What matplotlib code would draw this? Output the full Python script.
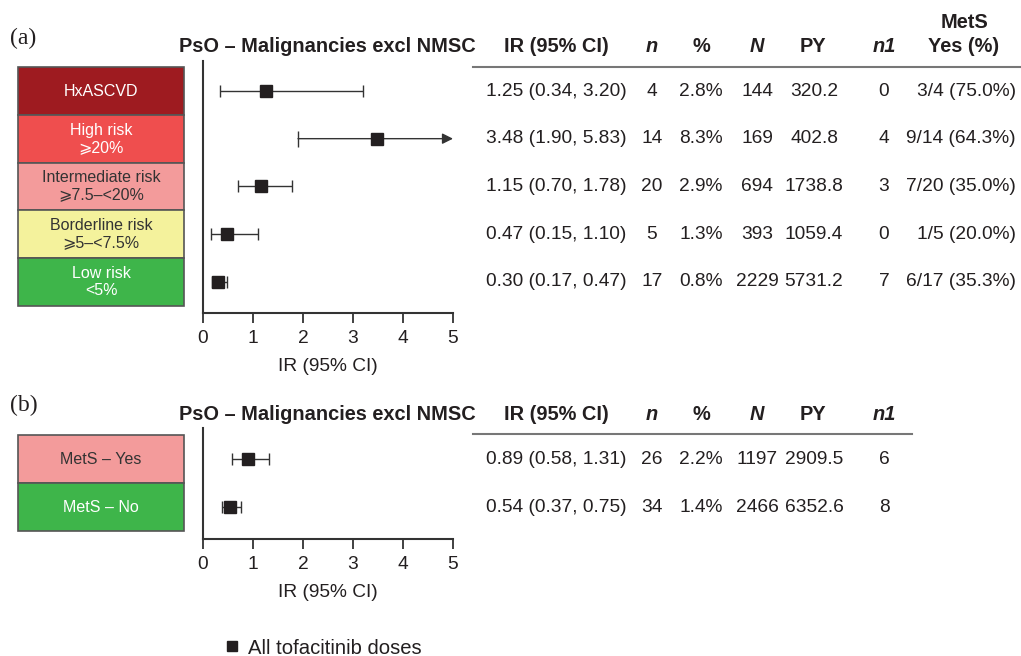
import matplotlib
matplotlib.use("Agg")
import matplotlib.pyplot as plt
from matplotlib.patches import Rectangle
from matplotlib.lines import Line2D
from matplotlib.transforms import blended_transform_factory
import numpy as np

# ---------------- data ----------------
cats_a = ["HxASCVD", "High risk\n\u2a7e20%", "Intermediate risk\n\u2a7e7.5\u2013<20%",
          "Borderline risk\n\u2a7e5\u2013<7.5%", "Low risk\n<5%"]
ir_a = [1.25, 3.48, 1.15, 0.47, 0.30]
lo_a = [0.34, 1.90, 0.70, 0.15, 0.17]
hi_a = [3.20, 5.83, 1.78, 1.10, 0.47]
n_a = ["4", "14", "20", "5", "17"]
pct_a = ["2.8%", "8.3%", "2.9%", "1.3%", "0.8%"]
N_a = ["144", "169", "694", "393", "2229"]
py_a = ["320.2", "402.8", "1738.8", "1059.4", "5731.2"]
n1_a = ["0", "4", "3", "0", "7"]
mets_a = ["3/4 (75.0%)", "9/14 (64.3%)", "7/20 (35.0%)", "1/5 (20.0%)", "6/17 (35.3%)"]

cats_b = ["MetS \u2013 Yes", "MetS \u2013 No"]
ir_b = [0.89, 0.54]
lo_b = [0.58, 0.37]
hi_b = [1.31, 0.75]
n_b = ["26", "34"]
pct_b = ["2.2%", "1.4%"]
N_b = ["1197", "2466"]
py_b = ["2909.5", "6352.6"]
n1_b = ["6", "8"]

xticks = [0, 1, 2, 3, 4, 5]
xmax = 5

# ---------------- style ----------------
box_cols_a = ["#9E1B20", "#EF4E4E", "#F39B9B", "#F4F29C", "#3EB54A"]
box_txt_a = ["white", "white", "#333333", "#333333", "white"]
box_cols_b = ["#F39B9B", "#3EB54A"]
box_txt_b = ["#333333", "white"]
ink = "#231F20"
sans = ["Liberation Sans", "DejaVu Sans"]
plt.rcParams["font.family"] = sans
VAL_FS = 13.8
HDR_FS = 14.4

W, H = 1021, 656
fig = plt.figure(figsize=(W / 100, H / 100), dpi=100)
bg = fig.add_axes([0, 0, 1, 1])
bg.set_xlim(0, W)
bg.set_ylim(H, 0)
bg.axis("off")

def make_axes(top, bottom, first_row, spacing, nrows):
    ax = fig.add_axes([203 / W, 1 - bottom / H, 250 / W, (bottom - top) / H])
    ax.set_xlim(0, xmax)
    ytop = -(first_row - top) / spacing
    ybot = (nrows - 1) + (bottom - (first_row + (nrows - 1) * spacing)) / spacing
    ax.set_ylim(ybot, ytop)
    ax.patch.set_alpha(0)
    for s in ["top", "right"]:
        ax.spines[s].set_visible(False)
    for s in ["left", "bottom"]:
        ax.spines[s].set_color("#333333")
        ax.spines[s].set_linewidth(1.5)
    ax.set_yticks([])
    ax.set_xticks(xticks)
    ax.set_xticklabels([str(t) for t in xticks])
    ax.tick_params(axis="x", length=7, width=1.3, color="#333333", pad=5,
                   labelsize=13.8, labelcolor=ink)
    ax.set_xlabel("IR (95% CI)", fontsize=13.8, color=ink, labelpad=8)
    return ax

def draw_forest(ax, ir, lo, hi):
    ys = np.arange(len(ir))
    for y, m, l, h in zip(ys, ir, lo, hi):
        if h > xmax:
            ax.annotate("", xy=(xmax, y), xytext=(l, y),
                        arrowprops=dict(arrowstyle="-|>", color="#333333", lw=1,
                                        mutation_scale=16, shrinkA=0, shrinkB=0),
                        annotation_clip=False)
            ax.plot([l], [y], marker="|", ms=12, mew=1, color="#333333")
            ax.plot([m], [y], marker="s", ms=8.5, color=ink, ls="none", zorder=3)
        else:
            ax.errorbar([m], [y], xerr=[[m - l], [h - m]], fmt="s", ms=8.5,
                        color=ink, ecolor="#333333", elinewidth=1, capsize=4.5,
                        capthick=1, zorder=3)

def draw_boxes(ax, cats, cols, tcols):
    tr = blended_transform_factory(bg.transData, ax.transData)
    for i, (c, fc, tc) in enumerate(zip(cats, cols, tcols)):
        bg.add_patch(Rectangle((18, i - 0.5), 166, 1.0, transform=tr, facecolor=fc,
                               edgecolor="#555555", lw=1.2, clip_on=False))
        bg.text(101, i, c, transform=tr, ha="center", va="center", fontsize=11.5,
                color=tc, linespacing=1.15)

def draw_table(ax, cols, xs, aligns):
    tr = blended_transform_factory(bg.transData, ax.transData)
    for col, x, al in zip(cols, xs, aligns):
        for i, v in enumerate(col):
            bg.text(x, i, v, transform=tr, ha=al, va="center", fontsize=VAL_FS,
                    color=ink)

# ---------------- panel (a) ----------------
ax_a = make_axes(61, 313, 91, 47.67, 5)
draw_forest(ax_a, ir_a, lo_a, hi_a)
draw_boxes(ax_a, cats_a, box_cols_a, box_txt_a)
ir_txt_a = [f"{m:.2f} ({l:.2f}, {h:.2f})" for m, l, h in zip(ir_a, lo_a, hi_a)]
draw_table(ax_a, [ir_txt_a, n_a, pct_a, N_a, py_a, n1_a, mets_a],
           [556, 652, 701, 757, 814, 884, 1016],
           ["center"] * 6 + ["right"])

# ---------------- panel (b) ----------------
ax_b = make_axes(428, 539, 459, 48, 2)
draw_forest(ax_b, ir_b, lo_b, hi_b)
draw_boxes(ax_b, cats_b, box_cols_b, box_txt_b)
ir_txt_b = [f"{m:.2f} ({l:.2f}, {h:.2f})" for m, l, h in zip(ir_b, lo_b, hi_b)]
draw_table(ax_b, [ir_txt_b, n_b, pct_b, N_b, py_b, n1_b],
           [556, 652, 701, 757, 814, 884], ["center"] * 6)

# ---------------- headers ----------------
def header(y, cols_txt, xs, line_x1):
    bg.text(179, y, "PsO \u2013 Malignancies excl NMSC", ha="left", va="center",
            fontsize=HDR_FS, fontweight="bold", color=ink)
    for t, x, it in zip(cols_txt, xs, [False, True, False, True, False, True]):
        bg.text(x, y, t, ha="center", va="center", fontsize=HDR_FS, fontweight="bold",
                style="italic" if it else "normal", color=ink)
    bg.plot([473, line_x1], [y + 20, y + 20], color="#777777", lw=1.5)

hdr = ["IR (95% CI)", "n", "%", "N", "PY", "n1"]
header(47, hdr, [556, 652, 701, 757, 813, 884], W)
bg.text(964, 23, "MetS", ha="center", va="center", fontsize=HDR_FS, fontweight="bold", color=ink)
bg.text(964, 47, "Yes (%)", ha="center", va="center", fontsize=HDR_FS, fontweight="bold", color=ink)
header(414, hdr, [556, 652, 701, 757, 813, 884], 912)

bg.text(10, 38, "(a)", ha="left", va="center", fontsize=17,
        family=["Liberation Serif", "DejaVu Serif"], color=ink)
bg.text(10, 405, "(b)", ha="left", va="center", fontsize=17,
        family=["Liberation Serif", "DejaVu Serif"], color=ink)

# ---------------- legend ----------------
h = Line2D([], [], marker="s", ls="none", color=ink, ms=7.5)
fig.legend(handles=[h], labels=["All tofacitinib doses"], loc="center left",
           bbox_to_anchor=(205 / W, 1 - 648 / H), frameon=False, fontsize=14.6,
           handlelength=0.9, handletextpad=0.3, labelcolor=ink)

fig.savefig("out.png", dpi=100)
